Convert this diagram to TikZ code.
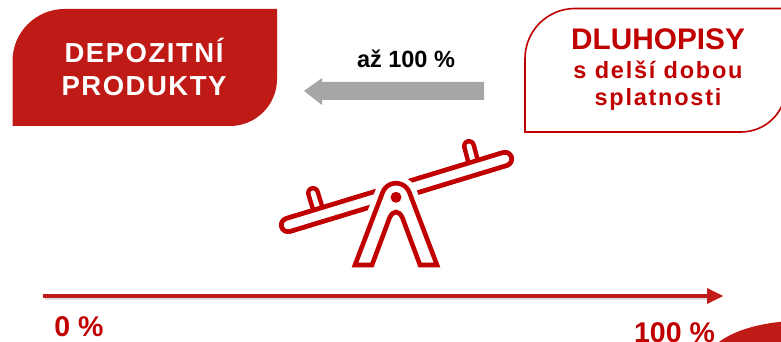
\documentclass[tikz,border=0pt]{standalone}
\usepackage{fontspec}
\setmainfont{Liberation Sans}[BoldFont={Liberation Sans Bold}]
\newcommand{\fsz}[2]{\fontsize{#1}{#2}\selectfont}
\newcommand{\lsp}[1]{\addfontfeature{LetterSpace=#1}}
\definecolor{boxred}{HTML}{C01A16}
\definecolor{txtred}{HTML}{C00000}
\definecolor{linered}{HTML}{C21C18}
\definecolor{arrowgray}{HTML}{A6A6A6}
\tikzset{
  lab/.style={align=center,inner sep=0pt},
}
\begin{document}
\begin{tikzpicture}[x=1pt,y=1pt]
\useasboundingbox (0,0) rectangle (781,342);
\clip (0,0) rectangle (781,342);
% corner blob
\fill[boxred] (719,0) .. controls (735,12) and (760,19) .. (790,21) -- (790,0) -- cycle;
% left box
\path[fill=boxred] (12.5,216) -- (12.5,281) arc[start angle=180,end angle=90,radius=52] -- (277,333) -- (277,263) arc[start angle=0,end angle=-90,radius=47] -- cycle;
\node[lab,text=white,font=\bfseries\fsz{27.5}{33}\lsp{5.5}] (depo) at (144,275) {DEPOZITNÍ\\PRODUKTY};
% right box
\draw[txtred,line width=1.6pt] (790,333.5) -- (575,333.5) arc[start angle=90,end angle=180,radius=50] -- (525,210) -- (741,210) arc[start angle=-90,end angle=0,radius=45];
\node[lab,text=txtred,font=\bfseries\fsz{23.5}{27}\lsp{7.5}] (dluh) at (658,272) {{\fsz{29.8}{27}\addfontfeature{LetterSpace=0}DLUHOPISY}\\[2pt]s delší dobou\\splatnosti};
% gray arrow
\fill[arrowgray] (484,242) -- (322,242) -- (322,237) -- (304,251) -- (322,264) -- (322,260) -- (484,260) -- cycle;
\node[lab,text=black,font=\bfseries\fsz{23.5}{23}] (az) at (406,283) {až 100 \%};
% seesaw
\coordinate (pl) at (288,117);
\coordinate (pr) at (505,183);
\coordinate (hlb) at (317,136);
\coordinate (hlt) at (313,149);
\coordinate (hrb) at (473,181);
\coordinate (hrt) at (469,196);
\draw[txtred,line width=14pt,line cap=round] (hlb) -- (hlt);
\draw[white,line width=5pt,line cap=round] (hlb) -- (hlt);
\draw[txtred,line width=18pt,line cap=round] (pl) -- (pr);
\draw[white,line width=8.6pt,line cap=round] (pl) -- (pr);
\draw[txtred,line width=14pt,line cap=round] (hrb) -- (hrt);
\draw[white,line width=5pt,line cap=round] (hrb) -- (hrt);
\draw[txtred,line width=18pt,line cap=round] (pl) -- (pr);
\draw[white,line width=8.6pt,line cap=round] (pl) -- (pr);
\def\Apath{(355,77) -- (382.65,149.62) arc[start angle=159,end angle=21,radius=14.3] -- (437,77) -- (420,77) -- (402.5,124) .. controls (399,132) and (393,132) .. (389.5,124) -- (372,77) -- cycle}
\draw[white,fill=white,line width=15pt] \Apath;
\draw[txtred,line width=4.6pt,miter limit=10] \Apath;
\fill[txtred] (396,144.7) circle[radius=5.5];
% axis
\coordinate (ax0) at (43,46);
\coordinate (ax1) at (707,46);
\draw[black!35,opacity=.35,line width=4pt] (45,43.5) -- (709,43.5);
\draw[linered,line width=4.5pt] (ax0) -- (ax1);
\fill[linered] (707,54) -- (723,46) -- (707,38) -- cycle;
\node[lab,text=txtred,font=\bfseries\fsz{28.5}{28}] (p0) at (79,15) {0 \%};
\node[lab,text=txtred,font=\bfseries\fsz{28.5}{28}] (p100) at (674.5,9) {100 \%};
\end{tikzpicture}
\end{document}
